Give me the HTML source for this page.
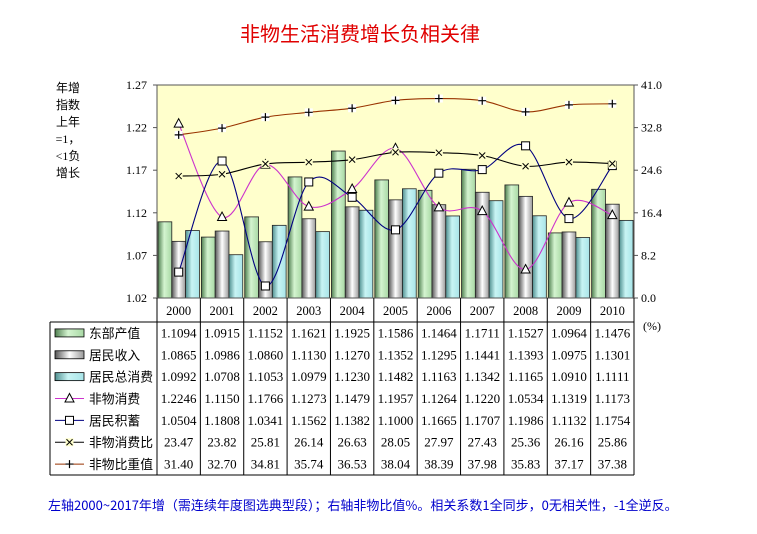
<!DOCTYPE html>
<html><head><meta charset="utf-8"><style>
body{margin:0;background:#fff;width:757px;height:529px;overflow:hidden;font-family:"Liberation Serif","Noto Serif CJK SC",serif;}
svg text{font-family:"Liberation Serif","Noto Sans CJK SC",serif;}
</style></head><body>
<svg id="s" width="757" height="529" xmlns="http://www.w3.org/2000/svg">
<defs>
<linearGradient id="gG" x1="0" x2="1"><stop offset="0" stop-color="#4f7f4f"/><stop offset="0.45" stop-color="#d4f4d0"/><stop offset="1" stop-color="#a8d8a4"/></linearGradient>
<linearGradient id="gW" x1="0" x2="1"><stop offset="0" stop-color="#555"/><stop offset="0.5" stop-color="#fff"/><stop offset="1" stop-color="#999"/></linearGradient>
<linearGradient id="gC" x1="0" x2="1"><stop offset="0" stop-color="#4f8f8f"/><stop offset="0.45" stop-color="#c8f4f4"/><stop offset="1" stop-color="#a8e4e8"/></linearGradient>
</defs>
<text x="360" y="41" font-size="20" fill="#e00000" text-anchor="middle" style="font-family:'Noto Sans CJK SC',sans-serif">非物生活消费增长负相关律</text>
<g font-size="12" style="font-family:'Noto Sans CJK SC',sans-serif" text-anchor="middle">
<text x="68" y="92">年增</text><text x="68" y="109">指数</text><text x="68" y="126">上年</text><text x="68" y="143">=1，</text><text x="68" y="160">&lt;1负</text><text x="68" y="177">增长</text>
</g>
<rect x="157" y="85" width="477" height="213" fill="#ffffcc" stroke="#555" stroke-width="1"/>
<g id="g"></g>
<text x="48" y="510" font-size="13" fill="#0000cc" style="font-family:'Noto Sans CJK SC',sans-serif">左轴2000~2017年增（需连续年度图选典型段）；右轴非物比值%。相关系数1全同步，0无相关性，-1全逆反。</text>
</svg>
<script>
const S='http://www.w3.org/2000/svg',g=document.getElementById('g');
function el(t,a,txt){const e=document.createElementNS(S,t);for(const k in a)e.setAttribute(k,a[k]);if(txt!=null)e.textContent=txt;g.appendChild(e);return e;}
const X0=157,X1=634,W=(X1-X0)/11,YT=85,YB=298,H=YB-YT;
const yl=v=>YB-(v-1.02)/0.25*H, yr=v=>YB-v/41*H, cx=i=>X0+W*(i+0.5);
const years=[2000,2001,2002,2003,2004,2005,2006,2007,2008,2009,2010];
const d=[
[1.1094,1.0915,1.1152,1.1621,1.1925,1.1586,1.1464,1.1711,1.1527,1.0964,1.1476],
[1.0865,1.0986,1.0860,1.1130,1.1270,1.1352,1.1295,1.1441,1.1393,1.0975,1.1301],
[1.0992,1.0708,1.1053,1.0979,1.1230,1.1482,1.1163,1.1342,1.1165,1.0910,1.1111],
[1.2246,1.1150,1.1766,1.1273,1.1479,1.1957,1.1264,1.1220,1.0534,1.1319,1.1173],
[1.0504,1.1808,1.0341,1.1562,1.1382,1.1000,1.1665,1.1707,1.1986,1.1132,1.1754],
[23.47,23.82,25.81,26.14,26.63,28.05,27.97,27.43,25.36,26.16,25.86],
[31.40,32.70,34.81,35.74,36.53,38.04,38.39,37.98,35.83,37.17,37.38]];
const fills=['url(#gG)','url(#gW)','url(#gC)'];
for(let i=0;i<11;i++)for(let k=0;k<3;k++){const y=yl(d[k][i]);el('rect',{x:X0+W*i+1+k*13.8,y:y,width:13.8,height:YB-y,fill:fills[k],stroke:'#222','stroke-width':0.8});}
function smooth(p){let s=`M${p[0][0]},${p[0][1]}`;for(let i=0;i<p.length-1;i++){const a=p[i-1]||p[i],b=p[i],c=p[i+1],e=p[i+2]||c;s+=` C${b[0]+(c[0]-a[0])/6},${b[1]+(c[1]-a[1])/6} ${c[0]-(e[0]-b[0])/6},${c[1]-(e[1]-b[1])/6} ${c[0]},${c[1]}`;}return s;}
const ser=[[3,'#cc33cc',yl,'tri'],[4,'#000080',yl,'sq'],[5,'#000',yr,'x'],[6,'#993300',yr,'+']];
function mark(t,x,y,c){if(t=='tri')el('path',{d:`M${x},${y-5}L${x+4.5},${y+3.5}L${x-4.5},${y+3.5}Z`,fill:'#fff',stroke:'#000','stroke-width':1});
else if(t=='sq')el('rect',{x:x-4,y:y-4,width:8,height:8,fill:'#fff',stroke:'#000','stroke-width':1});
else if(t=='x'){el('rect',{x:x-4,y:y-4,width:8,height:8,fill:'#ffffcc'});el('path',{d:`M${x-3},${y-3}L${x+3},${y+3}M${x+3},${y-3}L${x-3},${y+3}`,stroke:'#000','stroke-width':1});}
else {el('rect',{x:x-4,y:y-4,width:8,height:8,fill:'#fff'});el('path',{d:`M${x-4},${y}L${x+4},${y}M${x},${y-4}L${x},${y+4}`,stroke:'#000','stroke-width':1.2});}}
for(const [k,c,f,t] of ser){const p=d[k].map((v,i)=>[cx(i),f(v)]);el('path',{d:smooth(p),fill:'none',stroke:c,'stroke-width':1.1});p.forEach(q=>mark(t,q[0],q[1]));}
el('rect',{x:X0,y:YT,width:X1-X0,height:H,fill:'none',stroke:'#555'});
const lt=['1.27','1.22','1.17','1.12','1.07','1.02'],rt=['41.0','32.8','24.6','16.4','8.2','0.0'];
for(let j=0;j<6;j++){const y=YT+H*j/5;el('line',{x1:X0-4,x2:X0,y1:y,y2:y,stroke:'#555'});el('line',{x1:X1,x2:X1+4,y1:y,y2:y,stroke:'#555'});
el('text',{x:X0-10,y:y+4,'font-size':12,'text-anchor':'end'},lt[j]);el('text',{x:X1+7,y:y+4,'font-size':12},rt[j]);}
el('text',{x:643,y:330,'font-size':12},'(%)');
const TL=50,DR=(475-322)/7;
el('line',{x1:X0,x2:X1,y1:322,y2:322,stroke:'#000'});
el('line',{x1:TL,x2:X1,y1:475,y2:475,stroke:'#000'});
el('line',{x1:TL,x2:X0,y1:322,y2:322,stroke:'#000'});
el('line',{x1:TL,x2:TL,y1:322,y2:475,stroke:'#000'});
for(let i=0;i<=11;i++){const x=X0+W*i;el('line',{x1:x,x2:x,y1:298,y2:475,stroke:'#000'});}
years.forEach((yv,i)=>el('text',{x:cx(i),y:315,'font-size':12.5,'text-anchor':'middle'},yv));
const names=['东部产值','居民收入','居民总消费','非物消费','居民积蓄','非物消费比','非物比重值'];
for(let r=0;r<7;r++){const y=322+DR*(r+0.5)+4.5;
 for(let i=0;i<11;i++){const v=d[r][i];el('text',{x:cx(i),y:y,'font-size':13,'text-anchor':'middle'},r<5?v.toFixed(4):v.toFixed(2));}
 el('text',{x:89,y:y+0.5,'font-size':12.8,style:"font-family:'Noto Sans CJK SC',sans-serif"},names[r]);
 const my=y-4.5;
 if(r<3)el('rect',{x:55,y:my-4,width:29,height:8,fill:fills[r],stroke:'#000','stroke-width':0.8});
 else{const s=ser[r-3];el('line',{x1:55,x2:84,y1:my,y2:my,stroke:s[1]});mark(s[3],69.5,my);}
}
</script>
</body></html>
